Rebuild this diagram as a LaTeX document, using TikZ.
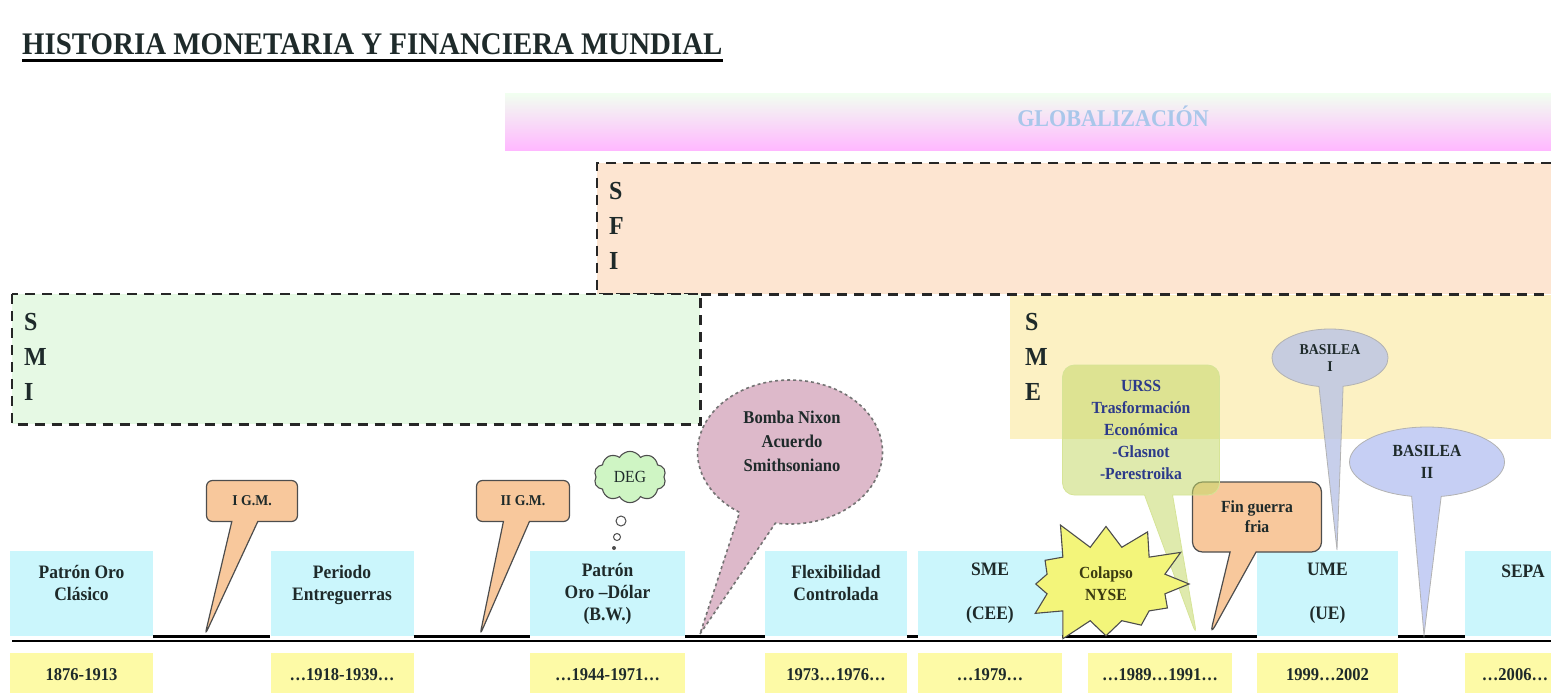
\documentclass[tikz,border=0pt]{standalone}
\usepackage{fontspec}
\setmainfont{Liberation Serif}[FakeStretch=0.92]
\usetikzlibrary{shapes.callouts,shapes.symbols}

\definecolor{periodbg}{HTML}{CBF6FC}
\definecolor{yearbg}{HTML}{FDFAA6}
\definecolor{sfibg}{HTML}{FDE5D1}
\definecolor{smibg}{HTML}{E6F9E4}
\definecolor{smebg}{HTML}{FCF1C3}
\definecolor{warbg}{HTML}{F8C89C}
\definecolor{ink}{HTML}{1E2A2A}
\definecolor{edge}{HTML}{4D4D4D}
\definecolor{nixonbg}{HTML}{DDB9CA}
\definecolor{ursbg}{HTML}{C4D96A}
\definecolor{ursink}{HTML}{2C3A8A}
\definecolor{basonebg}{HTML}{B9C3E6}
\definecolor{bastwobg}{HTML}{C6CFF4}
\definecolor{starbg}{HTML}{F3F57A}
\definecolor{starink}{HTML}{3B3B12}
\definecolor{degbg}{HTML}{CFF5C4}
\definecolor{globink}{HTML}{A9C7EA}
\definecolor{globtop}{HTML}{F1FFF0}
\definecolor{globbot}{HTML}{FFB8FF}

\newcommand{\fsz}[2]{\fontsize{#1}{#2}\selectfont}

\begin{document}
\begin{tikzpicture}[x=1pt,y=-1pt,
  every node/.style={text=ink, font=\bfseries},
  periodcell/.style={fill=periodbg, minimum width=#1, minimum height=85pt,
    inner sep=0pt, align=center, font=\bfseries\fsz{19}{22}},
  yearcell/.style={fill=yearbg, minimum width=#1, minimum height=44pt,
    inner sep=0pt, font=\bfseries\fsz{18}{20}},
  timebar/.style={line width=3pt},
  dashedge/.style={line width=2.6pt, dash pattern=on 10pt off 7pt, draw=black!85},
  bandbox/.style={inner sep=0pt, anchor=north west},
  bandletters/.style={anchor=north west, inner sep=0pt, align=left,
    font=\bfseries\fsz{26}{35}},
  warcall/.style={rectangle callout, rounded corners=6pt, fill=warbg, draw=edge,
    line width=1.2pt, inner sep=0pt, align=center, callout pointer width=26pt},
  bubble/.style={circle, draw=edge, line width=1pt, fill=white, inner sep=0pt}
]
\useasboundingbox (0,0) rectangle (1551,693);

% title
\node[anchor=base west, inner sep=0pt, font=\bfseries\fsz{31.4}{34}] (title) at (22,55)
  {HISTORIA MONETARIA Y FINANCIERA MUNDIAL};
\draw[line width=3pt] ([yshift=-6pt]title.base west) -- ([yshift=-6pt]title.base east);

% globalisation band
\node[bandbox, minimum width=1046pt, minimum height=57pt,
  top color=globtop, middle color=white!88!globbot, bottom color=globbot] (glob) at (505,93) {};
\node[text=globink, font=\bfseries\fsz{24}{26}] (globtxt) at (1113,116) {GLOBALIZACIÓN};

% SME band
\node[bandbox, fill=smebg, minimum width=541pt, minimum height=144pt] (sme) at (1010,295) {};
\node[bandletters] (smel) at (1025,313) {S\\M\\E};

% SFI band
\node[bandbox, fill=sfibg, minimum width=954pt, minimum height=131pt] (sfi) at (597,163) {};
\draw[dashedge] (sfi.north east) -- (sfi.north west) -- (sfi.south west) -- (sfi.south east);
\node[bandletters] (sfil) at (609,182) {S\\F\\I};

% SMI band
\node[bandbox, fill=smibg, minimum width=688pt, minimum height=130pt] (smi) at (12,294) {};
\draw[dashedge] (smi.north west) rectangle (smi.south east);
\node[bandletters] (smil) at (24,313) {S\\M\\I};

% periods
\node[periodcell=143pt] (p1) at (81.5,593.5)  {Patrón Oro\\Clásico\\~};
\node[periodcell=143pt] (p2) at (342,593.5)   {Periodo\\Entreguerras\\~};
\node[periodcell=155pt] (p3) at (607.5,593.5) {Patrón\\Oro –Dólar\\(B.W.)};
\node[periodcell=142pt] (p4) at (836,593.5)   {Flexibilidad\\Controlada\\~};
\node[periodcell=144pt] (p5) at (990,593.5)   {SME\\~\\(CEE)};
\node[periodcell=141pt] (p6) at (1327.5,593.5){UME\\~\\(UE)};
\node[periodcell=116pt] (p7) at (1523,593.5)  {SEPA\\~\\~};

% years
\node[yearcell=143pt] (y1) at (81.5,675)  {1876-1913};
\node[yearcell=143pt] (y2) at (342,675)   {…1918-1939…};
\node[yearcell=155pt] (y3) at (607.5,675) {…1944-1971…};
\node[yearcell=142pt] (y4) at (836,675)   {1973…1976…};
\node[yearcell=144pt] (y5) at (990,675)   {…1979…};
\node[yearcell=144pt] (y6) at (1160,675)  {…1989…1991…};
\node[yearcell=141pt] (y7) at (1327.5,675){1999…2002};
\node[yearcell=100pt] (y8) at (1515,675)  {…2006…};

% time axis
\coordinate (axisL) at (12,641);
\coordinate (axisR) at (1551,641);
\draw[line width=1.4pt] (axisL) -- (axisR);
\draw[timebar] (p1.south east) -- (p2.south west);
\draw[timebar] (p2.south east) -- (p3.south west);
\draw[timebar] (p3.south east) -- (p4.south west);
\draw[timebar] (p4.south east) -- (p5.south west);
\draw[timebar] (p5.south east) -- (p6.south west);
\draw[timebar] (p6.south east) -- (p7.south west);

% pointer targets
\coordinate (tipA) at (205,635);
\coordinate (tipB) at (480,635);
\coordinate (tipN) at (700,634);
\coordinate (tipU) at (1197,637);
\coordinate (tipF) at (1210,635);
\coordinate (tipBa) at (1337,550);
\coordinate (tipBb) at (1424,635);

% wars
\node[warcall, minimum width=91pt, minimum height=41pt, font=\bfseries\fsz{15}{17},
  callout absolute pointer={(tipA)}] (igm) at (252,501) {I G.M.};
\node[warcall, minimum width=93pt, minimum height=41pt, font=\bfseries\fsz{15}{17},
  callout absolute pointer={(tipB)}] (iigm) at (523,501) {II G.M.};

% SDR thought cloud
\node[cloud, cloud puffs=10, cloud puff arc=120, draw=edge, line width=1.1pt, fill=degbg,
  minimum width=72pt, minimum height=46pt, inner sep=0pt, font=\fsz{17}{19}] (deg) at (630,477) {DEG};
\node[bubble, minimum size=10pt] (degb1) at (621,521) {};
\node[bubble, minimum size=7pt] (degb2) at (617,537) {};
\node[circle, fill=edge, inner sep=0pt, minimum size=4pt] (degb3) at (614,548) {};

% Nixon shock
\node[ellipse callout, fill=nixonbg, draw=black!55, line width=1.6pt,
  dash pattern=on 3pt off 3pt, minimum width=185pt, minimum height=144pt,
  callout absolute pointer={(tipN)}, callout pointer arc=24] (nixon) at (790,452) {};
\node[align=center, font=\bfseries\fsz{18}{24}] (nixontxt) at (792,441)
  {Bomba Nixon\\Acuerdo\\Smithsoniano};

% end of the cold war
\node[warcall, rounded corners=10pt, minimum width=129pt, minimum height=70pt,
  font=\bfseries\fsz{17}{20}, callout absolute pointer={(tipF)}] (fin) at (1257,517)
  {Fin guerra\\fria};

% USSR transformation
\node[rectangle callout, rounded corners=12pt, fill=ursbg, fill opacity=0.55, text opacity=1,
  draw=ursbg!70!white, line width=0.8pt, minimum width=157pt, minimum height=130pt,
  align=center, text=ursink, font=\bfseries\fsz{17}{22}, callout pointer width=28pt,
  callout absolute pointer={(tipU)}] (urss) at (1141,430)
  {URSS\\Trasformación\\Económica\\-Glasnot\\-Perestroika};

% Basel accords
\node[ellipse callout, fill=basonebg, fill opacity=0.8, text opacity=1, draw=gray!60,
  line width=0.8pt, minimum width=116pt, minimum height=58pt, inner sep=0pt,
  align=center, font=\bfseries\fsz{15}{17}, callout pointer arc=24,
  callout absolute pointer={(tipBa)}] (bas1) at (1330,358) {BASILEA\\I};
\node[ellipse callout, fill=bastwobg, draw=gray!60, line width=0.8pt,
  minimum width=155pt, minimum height=70pt, inner sep=0pt,
  align=center, font=\bfseries\fsz{17}{22}, callout pointer arc=22,
  callout absolute pointer={(tipBb)}] (bas2) at (1427,462) {BASILEA\\II};

% stock market crash
\node[starburst, starburst points=12, starburst point height=32pt, random starburst=5,
  fill=starbg, draw=edge, line width=1.1pt, minimum width=186pt, minimum height=140pt,
  inner sep=0pt, align=center, text=starink, font=\bfseries\fsz{17}{22}] (nyse) at (1106,584)
  {Colapso\\NYSE};
\end{tikzpicture}
\end{document}
